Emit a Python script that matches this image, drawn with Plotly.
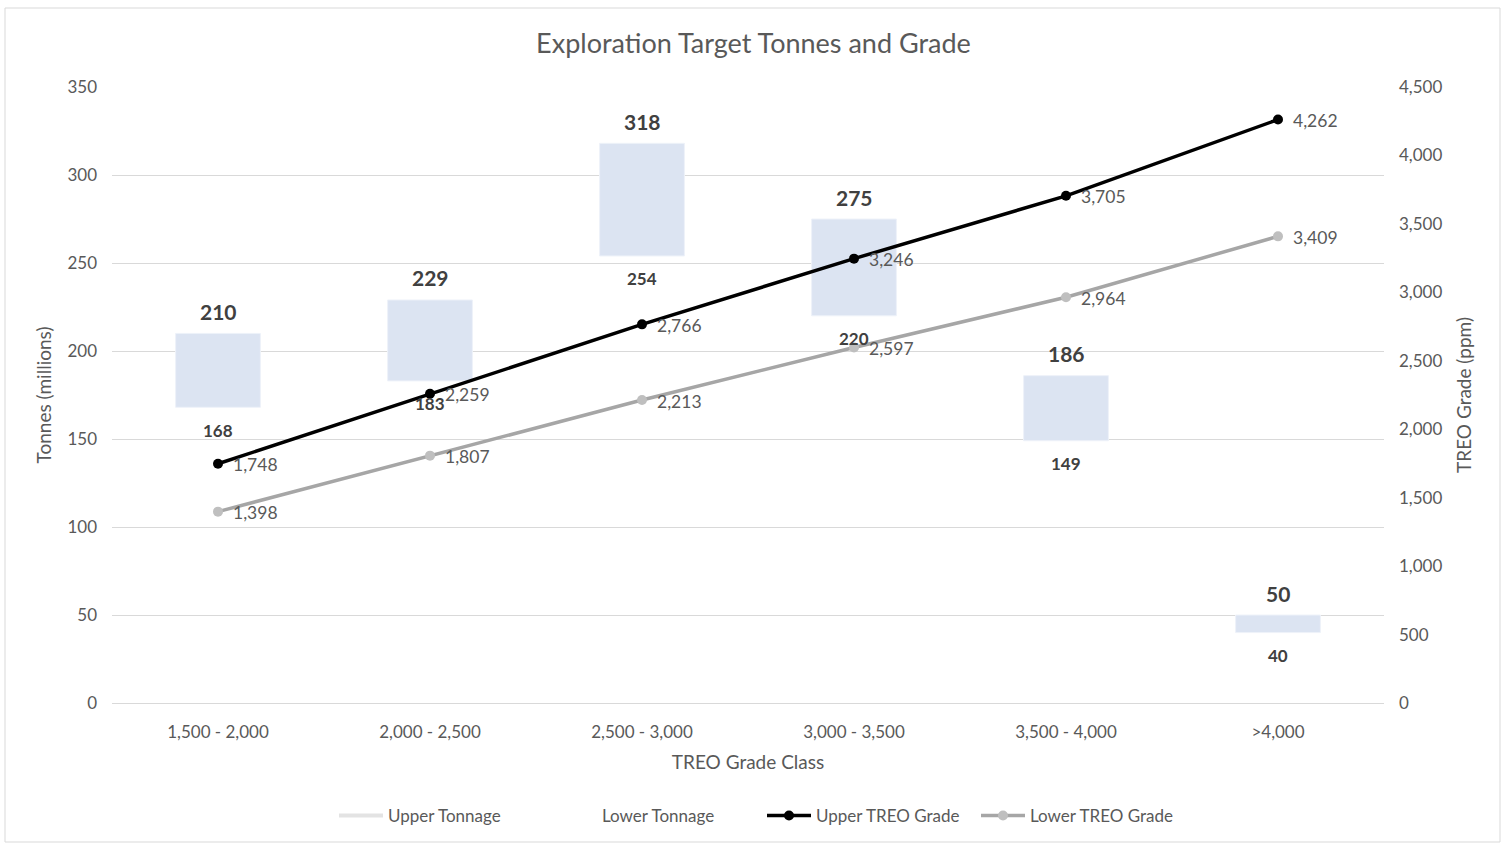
import plotly.graph_objects as go

categories = ["1,500 - 2,000", "2,000 - 2,500", "2,500 - 3,000", "3,000 - 3,500", "3,500 - 4,000", ">4,000"]
upper_tonnage = [210, 229, 318, 275, 186, 50]
lower_tonnage = [168, 183, 254, 220, 149, 40]
upper_grade = [1748, 2259, 2766, 3246, 3705, 4262]
lower_grade = [1398, 1807, 2213, 2597, 2964, 3409]

FONT = "Lato, 'Open Sans', sans-serif"
TXT = "#595959"
LBL = "#404040"

fig = go.Figure()

# floating bars between lower and upper tonnage
fig.add_trace(go.Bar(
    x=categories,
    y=[u - l for u, l in zip(upper_tonnage, lower_tonnage)],
    base=lower_tonnage,
    marker=dict(color="#dce4f2", line=dict(color="#eef2f9", width=1)),
    showlegend=False, hoverinfo="skip", yaxis="y",
))

# legend-only entries for tonnage
fig.add_trace(go.Scatter(x=[None], y=[None], mode="lines", name="Upper Tonnage",
                         line=dict(color="#e3e3e3", width=4)))
fig.add_trace(go.Scatter(x=[None], y=[None], mode="lines", name="Lower Tonnage",
                         line=dict(color="rgba(255,255,255,0)", width=4)))

# grade lines
fig.add_trace(go.Scatter(
    x=categories, y=upper_grade, mode="lines+markers", name="Upper TREO Grade",
    line=dict(color="#000000", width=3.5), marker=dict(size=10, color="#000000"),
    yaxis="y2",
))
fig.add_trace(go.Scatter(
    x=categories, y=lower_grade, mode="lines+markers", name="Lower TREO Grade",
    line=dict(color="#a6a6a6", width=3.5), marker=dict(size=10, color="#bfbfbf"),
    yaxis="y2",
))

annotations = []
for c, u, l in zip(categories, upper_tonnage, lower_tonnage):
    annotations.append(dict(x=c, y=u, xref="x", yref="y", text=f"<b>{u}</b>", showarrow=False,
                            yshift=22, font=dict(size=21, color=LBL, family=FONT)))
    annotations.append(dict(x=c, y=l, xref="x", yref="y", text=f"<b>{l}</b>", showarrow=False,
                            yshift=-23, font=dict(size=17, color=LBL, family=FONT)))
for c, g in zip(categories, upper_grade):
    annotations.append(dict(x=c, y=g, xref="x", yref="y2", text=f"{g:,}", showarrow=False,
                            xanchor="left", xshift=13, yshift=-1,
                            font=dict(size=17.5, color=TXT, family=FONT)))
for c, g in zip(categories, lower_grade):
    annotations.append(dict(x=c, y=g, xref="x", yref="y2", text=f"{g:,}", showarrow=False,
                            xanchor="left", xshift=13, yshift=-1,
                            font=dict(size=17.5, color=TXT, family=FONT)))

fig.update_layout(
    width=1507, height=844,
    margin=dict(l=112, r=123, t=87, b=141, autoexpand=False),
    paper_bgcolor="white", plot_bgcolor="white",
    font=dict(family=FONT, color=TXT, size=17),
    title=dict(text="Exploration Target Tonnes and Grade", x=0.5, xanchor="center",
               y=1 - 44 / 844, yanchor="middle", font=dict(size=27, color=TXT, family=FONT)),
    bargap=0.6,
    xaxis=dict(
        showgrid=False, showline=True, linecolor="#d9d9d9", linewidth=1,
        tickfont=dict(size=17, color=TXT), ticklabelstandoff=14,
        title=dict(text="TREO Grade Class", font=dict(size=19, color=TXT), standoff=14),
    ),
    yaxis=dict(
        range=[0, 350], dtick=50, showgrid=True, gridcolor="#d9d9d9", gridwidth=1,
        zeroline=False, showline=False, tickfont=dict(size=17, color=TXT),
        ticklabelstandoff=14,
        title=dict(text="Tonnes (millions)", font=dict(size=19, color=TXT), standoff=10),
    ),
    yaxis2=dict(
        range=[0, 4500], dtick=500, overlaying="y", side="right", showgrid=False,
        zeroline=False, showline=False, tickformat=",", tickfont=dict(size=17, color=TXT),
        ticklabelstandoff=14,
        title=dict(text="TREO Grade (ppm)", font=dict(size=19, color=TXT), standoff=16),
    ),
    legend=dict(orientation="h", x=(762 - 112) / 1272, xanchor="center", y=-113 / 616,
                yanchor="middle", font=dict(size=17, color=TXT), itemwidth=44,
                entrywidth=155, entrywidthmode="pixels"),
    annotations=annotations,
    shapes=[dict(type="rect", xref="paper", yref="paper",
                 x0=(5 - 112) / 1272, x1=(1500 - 112) / 1272,
                 y0=(703 - 842) / 616, y1=(703 - 8) / 616,
                 line=dict(color="#d9d9d9", width=1), layer="below")],
)

fig.write_html("out.html")
